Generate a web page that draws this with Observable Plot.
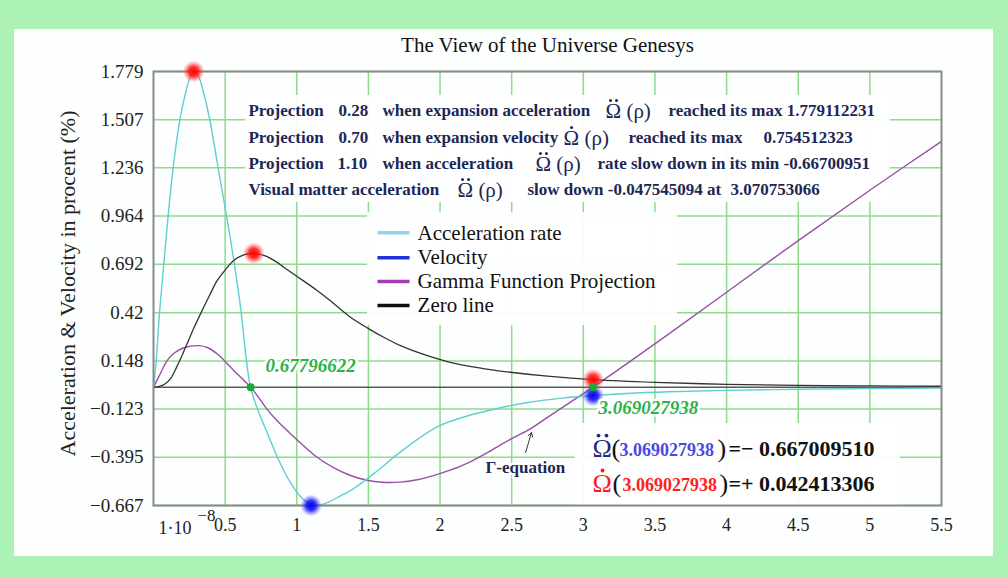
<!DOCTYPE html>
<html>
<head>
<meta charset="utf-8">
<script src="https://cdn.jsdelivr.net/npm/d3@7"></script>
<script src="https://cdn.jsdelivr.net/npm/@observablehq/plot@0.6"></script>
<style>
  html, body { margin:0; padding:0; }
  body { width:1007px; height:578px; background:#abf2b4; position:relative; overflow:hidden; font-family:"Liberation Serif", serif; }
  #panel { position:absolute; left:14px; top:29px; width:979px; height:527px; background:#fdfefe; }
  #chart { position:absolute; left:0; top:0; }
</style>
</head>
<body>
<div id="panel"></div>
<div id="chart"></div>
<script>
// ---------------- data ----------------
const titleText = "The View of the Universe Genesys";
const yAxisTitle = "Acceleration & Velocity in procent (%)";

const yTicks = [-0.667, -0.395, -0.123, 0.148, 0.42, 0.692, 0.964, 1.236, 1.507, 1.779];
const yTickLabels = ["−0.667", "−0.395", "−0.123", "0.148", "0.42", "0.692", "0.964", "1.236", "1.507", "1.779"];
const xTicks = [0.5, 1, 1.5, 2, 2.5, 3, 3.5, 4, 4.5, 5, 5.5];
const xTickLabels = ["0.5", "1", "1.5", "2", "2.5", "3", "3.5", "4", "4.5", "5", "5.5"];
const xGrid = [0.5, 1, 1.5, 2, 2.5, 3, 3.5, 4, 4.5, 5];
const xMin = 1e-8;

// Acceleration rate (cyan)
const accX = [1e-8, 0.019, 0.042, 0.072, 0.102, 0.137, 0.184, 0.223, 0.255, 0.288, 0.32, 0.351, 0.393, 0.451, 0.51, 0.565, 0.612, 0.649, 0.677, 0.726, 0.80, 0.865, 0.95, 1.03, 1.117, 1.2, 1.3, 1.4, 1.55, 1.7, 1.85, 2.0, 2.2, 2.4, 2.6, 2.85, 3.069, 3.3, 3.6, 4.0, 4.5, 5.0, 5.5];
const accY = [0, 0.15, 0.42, 0.692, 0.964, 1.236, 1.507, 1.655, 1.745, 1.779, 1.74, 1.655, 1.507, 1.236, 0.964, 0.692, 0.42, 0.148, 0, -0.123, -0.27, -0.395, -0.53, -0.62, -0.667, -0.655, -0.615, -0.57, -0.48, -0.38, -0.29, -0.216, -0.16, -0.12, -0.088, -0.062, -0.0475, -0.036, -0.026, -0.018, -0.012, -0.008, -0.005];

// Velocity (black curve)
const velX = [1e-8, 0.04, 0.08, 0.12, 0.16, 0.2, 0.24, 0.28, 0.328, 0.39, 0.444, 0.5, 0.56, 0.63, 0.70, 0.78, 0.85, 0.909, 1.0, 1.142, 1.26, 1.375, 1.5, 1.607, 1.72, 1.84, 2.07, 2.3, 2.49, 2.75, 3.069, 3.5, 4.0, 4.5, 5.0, 5.5];
const velY = [0, 0.004, 0.018, 0.05, 0.11, 0.18, 0.255, 0.33, 0.413, 0.515, 0.60, 0.66, 0.714, 0.745, 0.7545, 0.74, 0.71, 0.676, 0.625, 0.545, 0.47, 0.394, 0.33, 0.281, 0.235, 0.197, 0.14, 0.105, 0.084, 0.062, 0.0424, 0.027, 0.016, 0.01, 0.007, 0.005];

// Gamma function projection (purple)
const gamX = [1e-8, 0.05, 0.095, 0.15, 0.212, 0.316, 0.38, 0.444, 0.5, 0.56, 0.62, 0.678, 0.74, 0.793, 0.85, 0.909, 1.02, 1.142, 1.26, 1.375, 1.49, 1.6, 1.72, 1.84, 1.96, 2.07, 2.2, 2.35, 2.5, 2.63, 2.75, 2.9, 3.069, 3.3, 3.6, 4.0, 4.5, 5.0, 5.5];
const gamY = [0, 0.08, 0.15, 0.195, 0.222, 0.234, 0.222, 0.188, 0.145, 0.094, 0.047, 0, -0.065, -0.125, -0.178, -0.226, -0.31, -0.395, -0.455, -0.498, -0.525, -0.536, -0.535, -0.522, -0.497, -0.468, -0.425, -0.36, -0.29, -0.235, -0.17, -0.09, 0, 0.13, 0.302, 0.535, 0.826, 1.11, 1.385];

// highlighted points
const redX = [0.28, 0.70, 3.069];
const redY = [1.779, 0.7545, 0.0424];
const blueX = [1.10, 3.069];
const blueY = [-0.667, -0.0475];
const greenX = [0.678, 3.069];
const greenY = [0, 0];

// legend
const legendLabels = ["Acceleration rate", "Velocity", "Gamma Function Projection", "Zero line"];
const legendColors = ["#8fd6ea", "#2233dd", "#a040b0", "#111111"];

// info texts (Ω entries get dot accents: 2 = double dot, 1 = single dot)
const infoText = [
  ["Projection", "0.28", "when expansion acceleration", "Ω (ρ)", "reached its max 1.779112231"],
  ["Projection", "0.70", "when expansion velocity", "Ω (ρ)", "reached its max", "0.754512323"],
  ["Projection", "1.10", "when acceleration", "Ω (ρ)", "rate slow down in its min -0.66700951"],
  ["Visual matter acceleration", "Ω (ρ)", "slow down -0.047545094 at", "3.070753066"]
];
const infoAccentDots = [2, 1, 2, 2];

// ---------------- layout (annotation positions, data units) ----------------
const infoRows = [1.559, 1.407, 1.260, 1.114];
const infoCols = [
  [0.663, 1.291, 1.598, 3.155, 3.595],
  [0.663, 1.291, 1.598, 2.862, 3.315, 4.258],
  [0.663, 1.284, 1.598, 2.666, 3.099],
  [0.663, 2.122, 2.610, 4.027]
];
const legendRows = [0.870, 0.730, 0.595, 0.460];
const boxes = [
  {x1: 0.642, x2: 5.144, y1: 1.041, y2: 1.644},
  {x1: 1.494, x2: 3.657, y1: 0.348, y2: 0.983},
  {x1: 2.945, x2: 5.214, y1: -0.667, y2: -0.205}
];

const toRows = (xs, ys) => xs.map((x, i) => ({x, y: ys[i]}));
const acc = toRows(accX, accY);
const vel = toRows(velX, velY);
const gam = toRows(gamX, gamY);

const infoSegs = [];
infoText.forEach((parts, r) => parts.forEach((t, c) => {
  infoSegs.push({x: infoCols[r][c], y: infoRows[r], text: t, sym: t.startsWith("Ω"), dots: infoAccentDots[r]});
}));
const symSegs = infoSegs.filter(d => d.sym);

const legendData = legendLabels.map((l, i) => ({label: l, color: legendColors[i], y: legendRows[i]}));

const serif = "Liberation Serif, Times New Roman, serif";
const navy = "#1b2755";

const eqRows = [
  {y: -0.346, sym: "Ω", dots: 2, symColor: "#1f2a8a", num: "3.069027938", numColor: "#4a4ae0", val: "=− 0.667009510", lp: 3.197, nx: 3.253, rp: 3.937},
  {y: -0.543, sym: "Ω", dots: 1, symColor: "#ff1a1a", num: "3.069027938", numColor: "#ff2020", val: "=+ 0.042413306", lp: 3.204, nx: 3.273, rp: 3.951}
];

const chart = Plot.plot({
  width: 1007,
  height: 578,
  marginLeft: 153,
  marginRight: 66,
  marginTop: 71,
  marginBottom: 73,
  style: {background: "transparent", fontFamily: serif, color: "#222"},
  x: {domain: [0, 5.5], label: null},
  y: {domain: [-0.667, 1.779], label: null},
  marks: [
    Plot.gridX(xGrid, {stroke: "#8edb8e", strokeOpacity: 1, strokeWidth: 1.5}),
    Plot.gridY(yTicks, {stroke: "#8edb8e", strokeOpacity: 1, strokeWidth: 1.5}),
    Plot.rect(boxes, {x1: "x1", x2: "x2", y1: "y1", y2: "y2", fill: "#ffffff", fillOpacity: 0.95}),
    Plot.ruleY([0], {stroke: "#5a5a5a", strokeWidth: 1.5}),
    Plot.line(gam, {x: "x", y: "y", stroke: "#9b4ea6", strokeWidth: 1.4, curve: "catmull-rom"}),
    Plot.line(acc, {x: "x", y: "y", stroke: "#5fcfcf", strokeWidth: 1.4, curve: "catmull-rom"}),
    Plot.line(vel, {x: "x", y: "y", stroke: "#333333", strokeWidth: 1.3, curve: "catmull-rom"}),
    Plot.frame({stroke: "#8a8a8a", strokeWidth: 2}),
    // axes
    Plot.axisY(yTicks, {tickSize: 0, tickPadding: 10, fontSize: 19, fontFamily: serif, tickFormat: d => yTickLabels[yTicks.indexOf(d)], label: null}),
    Plot.axisX(xTicks, {tickSize: 0, tickPadding: 13, fontSize: 18, fontFamily: serif, tickFormat: d => xTickLabels[xTicks.indexOf(d)], label: null}),
    Plot.text(["1·10"], {x: xMin, frameAnchor: "bottom", lineAnchor: "middle", dx: 5, dy: 23, textAnchor: "start", fontSize: 18, fontFamily: serif, fill: "#222"}),
    Plot.text(["−8"], {x: xMin, frameAnchor: "bottom", lineAnchor: "middle", dx: 44, dy: 10, textAnchor: "start", fontSize: 17, fontFamily: serif, fill: "#222"}),
    Plot.text([titleText], {frameAnchor: "top", lineAnchor: "middle", dy: -26, fontSize: 21, fontFamily: serif, fill: "#111"}),
    Plot.text([yAxisTitle], {frameAnchor: "left", textAnchor: "middle", lineAnchor: "middle", dx: -86, dy: -5, rotate: -90, fontSize: 22, fontFamily: serif, fill: "#222"}),
    // glowing points
    Plot.dot(toRows(redX, redY), {x: "x", y: "y", r: 11, fill: "url(#glowRed)", stroke: null}),
    Plot.dot(toRows(blueX, blueY), {x: "x", y: "y", r: 11, fill: "url(#glowBlue)", stroke: null}),
    Plot.dot(toRows(greenX, greenY), {x: "x", y: "y", r: 4, fill: "#1aa83a", stroke: null}),
    // info block
    Plot.text(infoSegs.filter(d => !d.sym), {x: "x", y: "y", text: "text", textAnchor: "start", fontSize: 17, fontWeight: "bold", fontFamily: serif, fill: navy}),
    Plot.text(symSegs, {x: "x", y: "y", text: "text", textAnchor: "start", fontSize: 21, fontFamily: serif, fill: navy, dy: 1}),
    Plot.dot(symSegs.filter(d => d.dots === 2), {x: "x", y: "y", r: 1.5, fill: navy, stroke: null, dx: 5, dy: -10}),
    Plot.dot(symSegs.filter(d => d.dots === 2), {x: "x", y: "y", r: 1.5, fill: navy, stroke: null, dx: 11, dy: -10}),
    Plot.dot(symSegs.filter(d => d.dots === 1), {x: "x", y: "y", r: 1.5, fill: navy, stroke: null, dx: 8, dy: -10}),
    // legend
    Plot.link(legendData, {x1: 1.563, x2: 1.787, y1: "y", y2: "y", stroke: "color", strokeWidth: 3.5}),
    Plot.text(legendData, {x: 1.843, y: "y", text: "label", textAnchor: "start", fontSize: 21, fontFamily: serif, fill: "#111"}),
    // value labels
    Plot.text(["0.67796622"], {x: 0.782, y: 0.122, textAnchor: "start", fontSize: 19, fontWeight: "bold", fontStyle: "italic", fontFamily: serif, fill: "#2bb34a", stroke: "white", strokeWidth: 5}),
    Plot.text(["3.069027938"], {x: 3.106, y: -0.115, textAnchor: "start", fontSize: 19, fontWeight: "bold", fontStyle: "italic", fontFamily: serif, fill: "#2bb34a", stroke: "white", strokeWidth: 5}),
    Plot.text(["Γ-equation"], {x: 2.317, y: -0.453, textAnchor: "start", fontSize: 17, fontWeight: "bold", fontFamily: serif, fill: navy, stroke: "white", strokeWidth: 5}),
    Plot.arrow([{x1: 2.597, y1: -0.369, x2: 2.638, y2: -0.256}], {x1: "x1", y1: "y1", x2: "x2", y2: "y2", stroke: "#333", strokeWidth: 1, headLength: 7}),
    // equations box
    Plot.text(eqRows, {x: 3.064, y: "y", text: "sym", fill: "symColor", textAnchor: "start", fontSize: 26, fontFamily: serif}),
    Plot.dot(eqRows.filter(d => d.dots === 2), {x: 3.064, y: "y", r: 1.9, fill: "symColor", stroke: null, dx: 6, dy: -13}),
    Plot.dot(eqRows.filter(d => d.dots === 2), {x: 3.064, y: "y", r: 1.9, fill: "symColor", stroke: null, dx: 14, dy: -13}),
    Plot.dot(eqRows.filter(d => d.dots === 1), {x: 3.064, y: "y", r: 1.9, fill: "symColor", stroke: null, dx: 10, dy: -13}),
    Plot.text(eqRows, {x: "lp", y: "y", text: () => "(", textAnchor: "start", fontSize: 26, fontFamily: serif, fill: "#111"}),
    Plot.text(eqRows, {x: "nx", y: "y", text: "num", fill: "numColor", textAnchor: "start", fontSize: 18, fontWeight: "bold", fontFamily: serif, dy: 2}),
    Plot.text(eqRows, {x: "rp", y: "y", text: () => ")", textAnchor: "start", fontSize: 26, fontFamily: serif, fill: "#111"}),
    Plot.text(eqRows, {x: 4.013, y: "y", text: "val", textAnchor: "start", fontSize: 22, fontWeight: "bold", fontFamily: serif, fill: "#111"})
  ]
});

const ns = "http://www.w3.org/2000/svg";
const defs = document.createElementNS(ns, "defs");
defs.innerHTML =
  '<radialGradient id="glowRed"><stop offset="0" stop-color="#ff0000" stop-opacity="1"/><stop offset="0.45" stop-color="#ff1010" stop-opacity="0.85"/><stop offset="1" stop-color="#ff6060" stop-opacity="0"/></radialGradient>' +
  '<radialGradient id="glowBlue"><stop offset="0" stop-color="#0000ee" stop-opacity="1"/><stop offset="0.45" stop-color="#1010f0" stop-opacity="0.85"/><stop offset="1" stop-color="#6060ff" stop-opacity="0"/></radialGradient>';
chart.insertBefore(defs, chart.firstChild);
document.getElementById("chart").appendChild(chart);
</script>
</body>
</html>
